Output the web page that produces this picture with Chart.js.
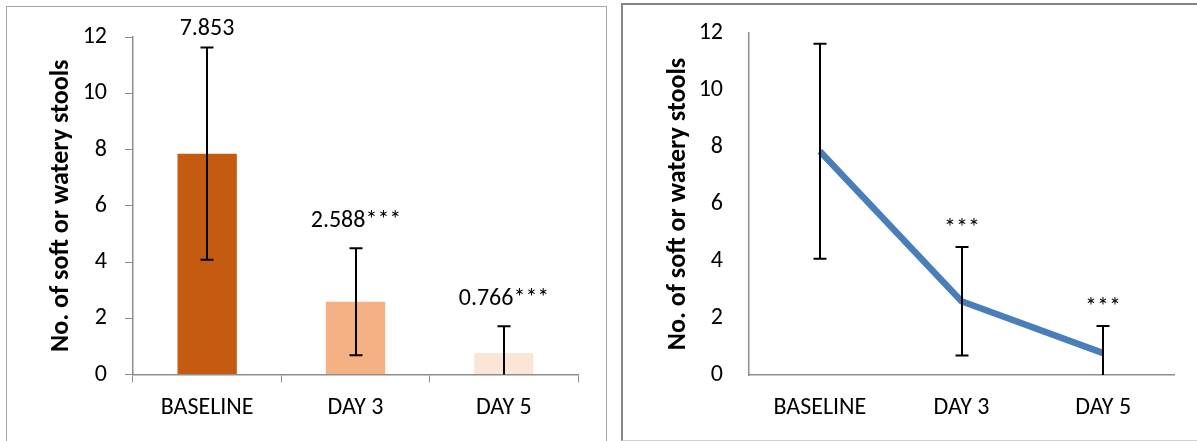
<!DOCTYPE html>
<html>
<head>
<meta charset="utf-8">
<script src="https://cdn.jsdelivr.net/npm/chart.js@4/dist/chart.umd.min.js"></script>
<style>
  body { margin: 0; background: #fff; width: 1197px; height: 441px; overflow: hidden; position: relative; }
  .frame { position: absolute; background: #fff; }
  #f1 { left: 6px; top: 6px; width: 599px; height: 450px; border: 1.5px solid #a6a6a6; }
  #f2 { left: 621px; top: 3px; width: 590px; height: 435px; border: 2px solid #858585; border-bottom: 1px solid #d0d0d0; }
  canvas { position: absolute; }
  #bars { left: 8px; top: 8px; }
  #line { left: 623px; top: 5px; }
</style>
</head>
<body>
<div class="frame" id="f1"></div>
<div class="frame" id="f2"></div>
<canvas id="bars" width="597" height="433"></canvas>
<canvas id="line" width="574" height="434"></canvas>
<script>
const categories = ["BASELINE", "DAY 3", "DAY 5"];
const means = [7.853, 2.588, 0.766];
const sds = [3.77, 1.9, 0.95];
const barLabels = ["7.853", "2.588***", "0.766***"];
const lineLabels = ["", "***", "***"];
const yTicks = [0, 2, 4, 6, 8, 10, 12];
const barColors = ["#C55A11", "#F4B183", "#FBE5D6"];

const FONT = "Carlito, Calibri, Lato, sans-serif";
const AXIS = "#8e8e8e";
const TITLE = "No. of soft or watery stools";

// error bars + text above them
const errorBars = {
  id: "errorBars",
  afterDatasetsDraw(chart, args, opts) {
    const { ctx, scales: { y } } = chart;
    const meta = chart.getDatasetMeta(0);
    ctx.save();
    ctx.strokeStyle = "#000";
    ctx.lineWidth = 2;
    meta.data.forEach((el, i) => {
      const x = Math.round(el.x);
      const lo = means[i] - sds[i];
      const yTop = y.getPixelForValue(means[i] + sds[i]);
      const yBot = y.getPixelForValue(Math.max(0, lo));
      ctx.beginPath();
      ctx.moveTo(x, yTop);
      ctx.lineTo(x, yBot);
      ctx.moveTo(x - 6.5, yTop);
      ctx.lineTo(x + 6.5, yTop);
      if (lo > 0) {
        ctx.moveTo(x - 6.5, yBot);
        ctx.lineTo(x + 6.5, yBot);
      }
      ctx.stroke();

      const text = opts.labels[i];
      if (text) {
        ctx.fillStyle = "#000";
        ctx.font = "24px " + FONT;
        ctx.textAlign = "center";
        ctx.textBaseline = "middle";
        ctx.fillText(text, x, Math.max(opts.minY, yTop - opts.gap));
      }
    });
    ctx.restore();
  }
};

const yScale = (width, pad, tickMarks, titlePad) => ({
  min: 0,
  max: 12,
  afterBuildTicks: (s) => { s.ticks = yTicks.map((v) => ({ value: v })); },
  afterFit: (s) => {
    s.width = width;
    // tick padding would otherwise push the plot area down
    s.paddingTop = 0;
    s.paddingBottom = 0;
  },
  ticks: { color: "#000", font: { family: FONT, size: 24 }, padding: pad },
  grid: { drawOnChartArea: false, drawTicks: tickMarks, tickLength: 8, color: AXIS },
  border: { display: true, color: AXIS, width: 1.5 },
  title: {
    display: true,
    text: TITLE,
    color: "#000",
    font: { family: FONT, size: 26, weight: "bold" },
    padding: { top: titlePad, bottom: 0 }
  }
});

new Chart(document.getElementById("bars"), {
  type: "bar",
  data: {
    labels: categories,
    datasets: [{
      data: means,
      backgroundColor: barColors,
      barPercentage: 0.4,
      categoryPercentage: 1
    }]
  },
  options: {
    responsive: false,
    animation: false,
    devicePixelRatio: 1,
    layout: { padding: { left: 0, right: 27, top: 29, bottom: 0 } },
    plugins: {
      legend: { display: false },
      tooltip: { enabled: false },
      errorBars: { labels: barLabels, gap: 27, minY: 21 }
    },
    scales: {
      x: {
        afterFit: (s) => { s.height = 66.5; },
        ticks: { color: "#000", font: { family: FONT, size: 24 }, padding: 11 },
        grid: { drawOnChartArea: false, drawTicks: true, tickLength: 8, color: AXIS, offset: true },
        border: { display: true, color: AXIS, width: 1.5 }
      },
      y: yScale(125, 18, true, 38)
    }
  },
  plugins: [errorBars]
});

new Chart(document.getElementById("line"), {
  type: "line",
  data: {
    labels: categories,
    datasets: [{
      data: means,
      borderColor: "#4A7EBB",
      borderWidth: 6.5,
      borderJoinStyle: "round",
      pointRadius: 0,
      tension: 0
    }]
  },
  options: {
    responsive: false,
    animation: false,
    devicePixelRatio: 1,
    layout: { padding: { left: 0, right: 23, top: 28, bottom: 0 } },
    plugins: {
      legend: { display: false },
      tooltip: { enabled: false },
      errorBars: { labels: lineLabels, gap: 18, minY: 21 }
    },
    scales: {
      x: {
        offset: true,
        afterFit: (s) => { s.height = 64; },
        ticks: { color: "#000", font: { family: FONT, size: 24 }, padding: 11 },
        grid: { display: false },
        border: { display: true, color: AXIS, width: 1.5 }
      },
      y: yScale(126, 26, false, 40)
    }
  },
  plugins: [errorBars]
});
</script>
</body>
</html>
